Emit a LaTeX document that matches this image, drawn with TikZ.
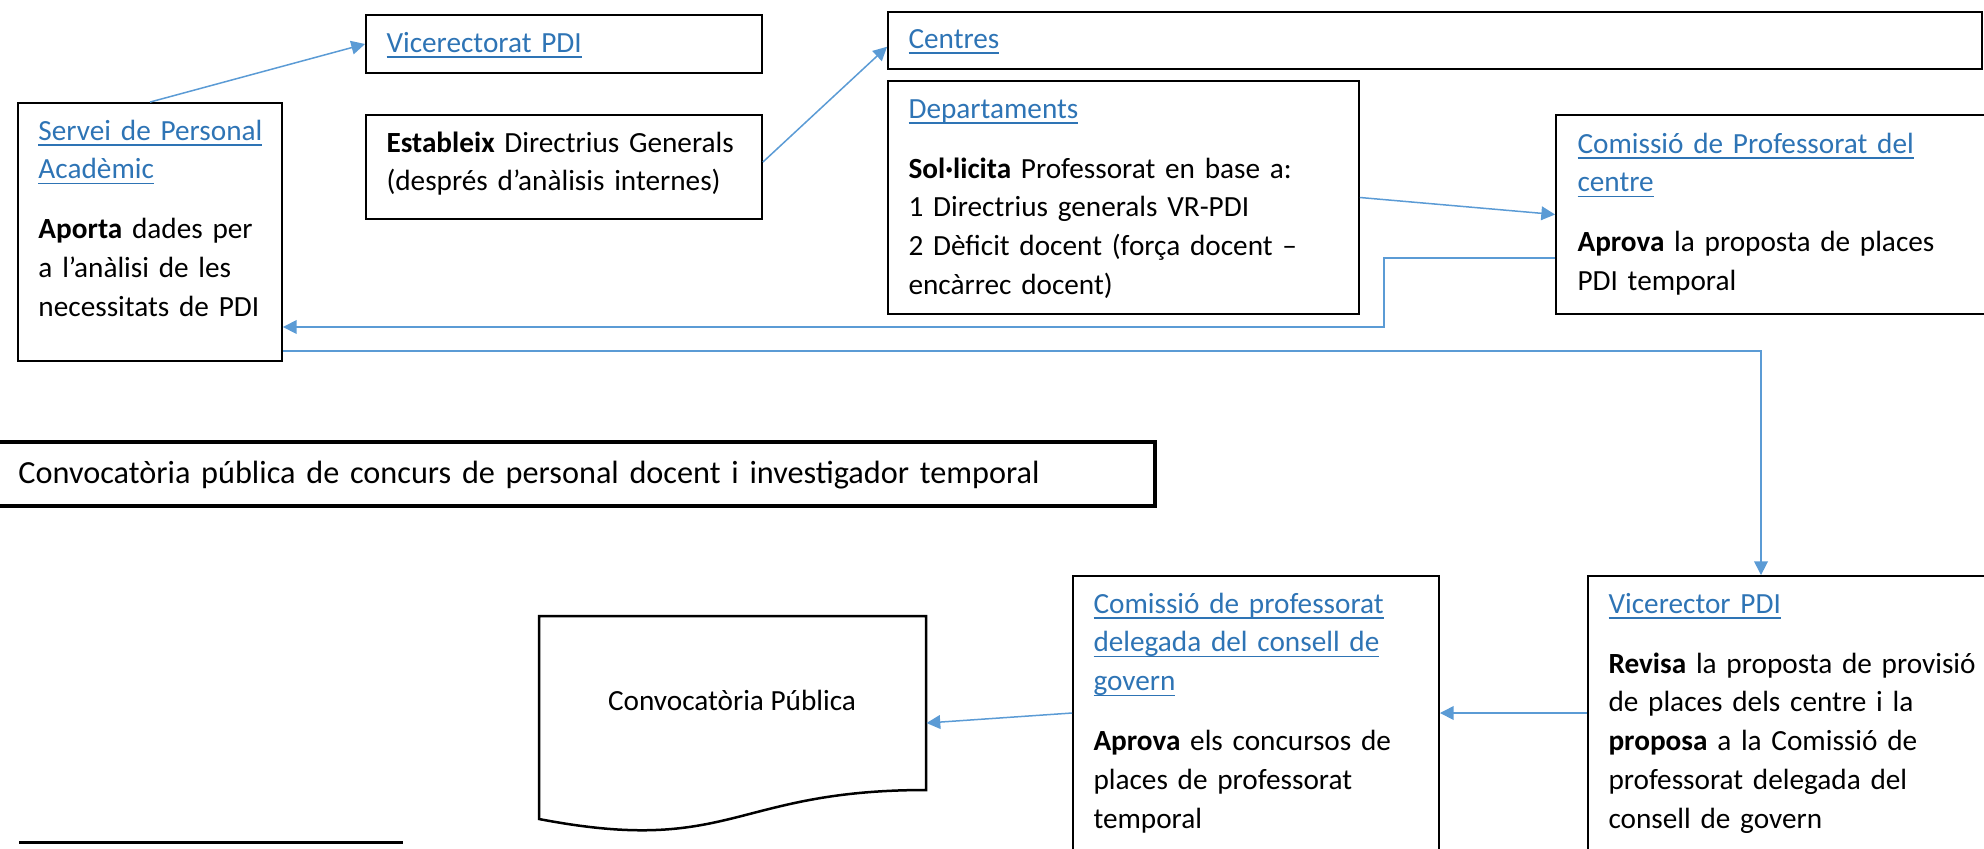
\documentclass[tikz,border=0pt]{standalone}
\usepackage{fontspec}
\setmainfont{Carlito}
\usetikzlibrary{arrows.meta,fit,calc}
\definecolor{linkblue}{HTML}{2E74B5}
\definecolor{arrowblue}{HTML}{5B9BD5}
\newsavebox{\lnkbox}
\newcommand{\lnk}[1]{\leavevmode{\color{linkblue}\sbox{\lnkbox}{#1}%
  \rlap{\rule[-2.2pt]{\wd\lnkbox}{0.6pt}}\usebox{\lnkbox}}}
\tikzset{
  box/.style={draw, inner sep=0pt, line width=0.75pt},
  txt/.style={anchor=base west, inner sep=0pt, align=left, text width=#1,
    font=\fontsize{11.7pt}{15.5pt}\selectfont},
  flow/.style={draw=arrowblue, line width=0.6pt, -{Triangle[length=5.5pt,width=5.5pt]}},
  line/.style={draw=arrowblue, line width=0.6pt}
}
\begin{document}
\begin{tikzpicture}[x=0.4pt,y=-0.4pt]
\useasboundingbox (0,0) rectangle (1984,848);

\node[box, fit={(366,15) (762,73)}] (vice) {};
\node[box, fit={(18,103) (282,361)}] (servei) {};
\node[box, fit={(366,115) (762,219)}] (estab) {};
\node[box, fit={(888,12) (1982,69)}] (centres) {};
\node[box, fit={(888,81) (1359,314)}] (depart) {};
\node[box, fit={(1556,115) (2010,314)}] (comcentre) {};
\node[box, line width=1.4pt, fit={(-20,442) (1155,506)}] (conv) {};
\node[box, fit={(1073,576) (1439,850)}] (deleg) {};
\node[box, fit={(1588,576) (2010,850)}] (vicer) {};
\node[inner sep=0pt, fit={(539,616) (926,830)}] (doc) {};

\draw[line width=1pt] (539,616) -- (926,616) -- (926,790)
  .. controls (732,790) and (732,856) .. (539,819) -- cycle;
\draw[line width=1.2pt] (19,842) -- (403,842);

\node[txt=160pt] (vicet) at (386,52) {\lnk{Vicerectorat PDI}};
\node[txt=110pt] (serveit) at (38,140)
  {\lnk{Servei de Personal}\\ \lnk{Acadèmic}\\[8.5pt]
   \textbf{Aporta} dades per\\ a l’anàlisi de les\\ necessitats de PDI};
\node[txt=160pt] (estabt) at (386,152)
  {\textbf{Estableix} Directrius Generals\\ (després d’anàlisis internes)};
\node[txt=160pt] (centrest) at (908,48) {\lnk{Centres}};
\node[txt=185pt] (departt) at (908,118)
  {\lnk{Departaments}\\[8.5pt]
   \textbf{Sol·licita} Professorat en base a:\\ 1 Directrius generals VR-PDI\\
   2 Dèficit docent (força docent –\\ encàrrec docent)};
\node[txt=175pt] (comcentret) at (1577,153)
  {\lnk{Comissió de Professorat del}\\ \lnk{centre}\\[8.5pt]
   \textbf{Aprova} la proposta de places\\ PDI temporal};
\node[txt=450pt, font=\fontsize{12.9pt}{15.5pt}\selectfont] (convt) at (18,483)
  {Convocatòria pública de concurs de personal docent i investigador temporal};
\node[anchor=base, inner sep=0pt, font=\fontsize{11.7pt}{15.5pt}\selectfont] (doct) at (732,710)
  {Convocatòria Pública};
\node[txt=160pt] (delegt) at (1093,613)
  {\lnk{Comissió de professorat}\\ \lnk{delegada del consell de}\\ \lnk{govern}\\[8.5pt]
   \textbf{Aprova} els concursos de\\ places de professorat\\ temporal};
\node[txt=170pt] (vicert) at (1608,613)
  {\lnk{Vicerector PDI}\\[8.5pt]
   \textbf{Revisa} la proposta de provisió\\ de places dels centre i la\\
   \textbf{proposa} a la Comissió de\\ professorat delegada del\\ consell de govern};

\draw[flow] (servei.north) -- (vice.west);
\draw[flow] ([yshift=2pt]estab.east) -- ([yshift=-2.5pt]centres.west);
\draw[flow] (depart.east) -- (comcentre.west);
\draw[flow] ([yshift=-17.4pt]comcentre.west) -- ++(-171,0) |- ([yshift=-38pt]servei.east);
\draw[flow] ([yshift=-47.6pt]servei.east) -| ([xshift=-15.2pt]vicer.north);
\draw[flow] (vicer.west) -- (deleg.east);
\draw[flow] (deleg.west) -- (doc.east);
\end{tikzpicture}
\end{document}
